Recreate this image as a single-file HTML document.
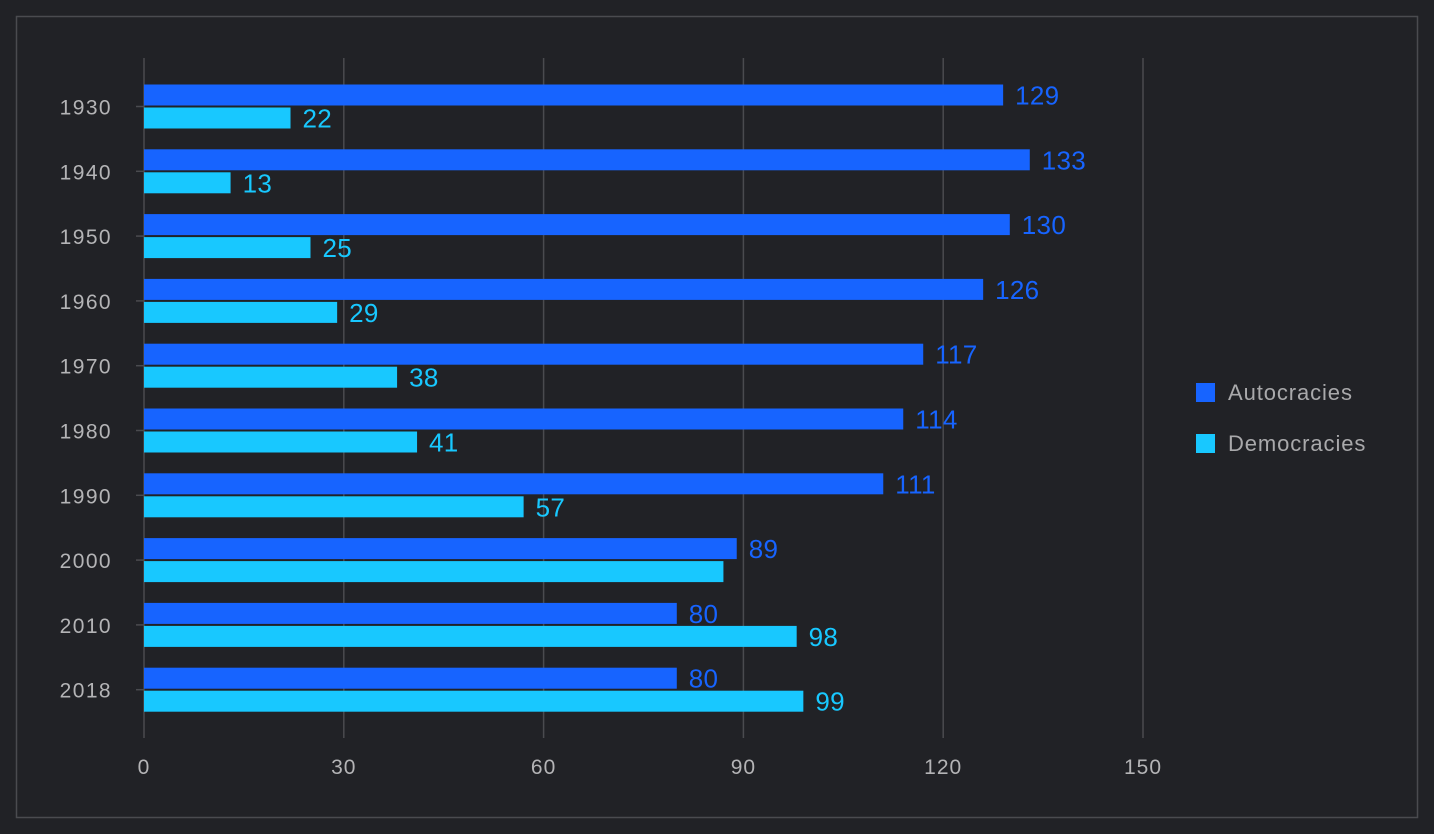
<!DOCTYPE html>
<html><head><meta charset="utf-8"><style>
html,body{margin:0;padding:0;background:#212226;}
svg{display:block;font-family:"Liberation Sans",sans-serif;}
</style></head><body>
<svg id="chart" width="1434" height="834">
<rect x="0" y="0" width="1434" height="834" fill="#212226"/>
<rect x="16.5" y="16.5" width="1401" height="801" fill="none" stroke="#4a4b4f" stroke-width="1.5"/>
<g id="grid"></g><g id="bars"></g><g id="labels"></g>
<g>
<g><rect x="1196" y="383" width="19" height="19" fill="#1764ff"/><text x="1228" y="400" fill="#a9a9ab" font-size="22" letter-spacing="0.9">Autocracies</text></g>
<g><rect x="1196" y="434" width="19" height="19" fill="#18c8ff"/><text x="1228" y="451" fill="#a9a9ab" font-size="22" letter-spacing="0.9">Democracies</text></g>
</g>
</svg>
<script>
const categories=["1930","1940","1950","1960","1970","1980","1990","2000","2010","2018"];
const autocracies=[129,133,130,126,117,114,111,89,80,80];
const democracies=[22,13,25,29,38,41,57,87,98,99];
const xTicks=[0,30,60,90,120,150];
const showDemoLabel=[1,1,1,1,1,1,1,0,1,1];
const NS="http://www.w3.org/2000/svg";
const x=v=>144+v*(999/150);
const yc=i=>106.5+i*64.8;
function mk(tag,attrs,parent,txt){const e=document.createElementNS(NS,tag);for(const k in attrs)e.setAttribute(k,attrs[k]);if(txt!==undefined)e.textContent=txt;document.getElementById(parent).appendChild(e);return e;}
xTicks.forEach(t=>{
 const l=mk('line',{x1:x(t),x2:x(t),y1:58,y2:738,stroke:'#4a4b4f','stroke-width':1.5},'grid');
 
 
 const tx=mk('text',{x:x(t),y:774,fill:'#b4b4b6','font-size':21,'letter-spacing':1,'text-anchor':'middle'},'labels',String(t));
 
 
});
categories.forEach((c,i)=>{
 const tk=mk('line',{x1:136,x2:144,y1:yc(i),y2:yc(i),stroke:'#4a4b4f','stroke-width':1.5},'grid');
 
 
 const yl=mk('text',{x:112,y:yc(i)+8,fill:'#b4b4b6','font-size':21,'letter-spacing':1.4,'text-anchor':'end'},'labels',c);
 
 
 const a=mk('rect',{x:144,y:yc(i)-22,width:x(autocracies[i])-144,height:21,fill:'#1764ff'},'bars');
 
 
 const d=mk('rect',{x:144,y:yc(i)+1,width:x(democracies[i])-144,height:21,fill:'#18c8ff'},'bars');
 
 
 const al=mk('text',{x:x(autocracies[i])+12,y:yc(i)-2,fill:'#1764ff','font-size':26,'letter-spacing':0.3},'labels',String(autocracies[i]));
 
 
 if(showDemoLabel[i]){
  const dl=mk('text',{x:x(democracies[i])+12,y:yc(i)+21,fill:'#18c8ff','font-size':26,'letter-spacing':0.3},'labels',String(democracies[i]));
  
  
 }
});
</script>
</body></html>
